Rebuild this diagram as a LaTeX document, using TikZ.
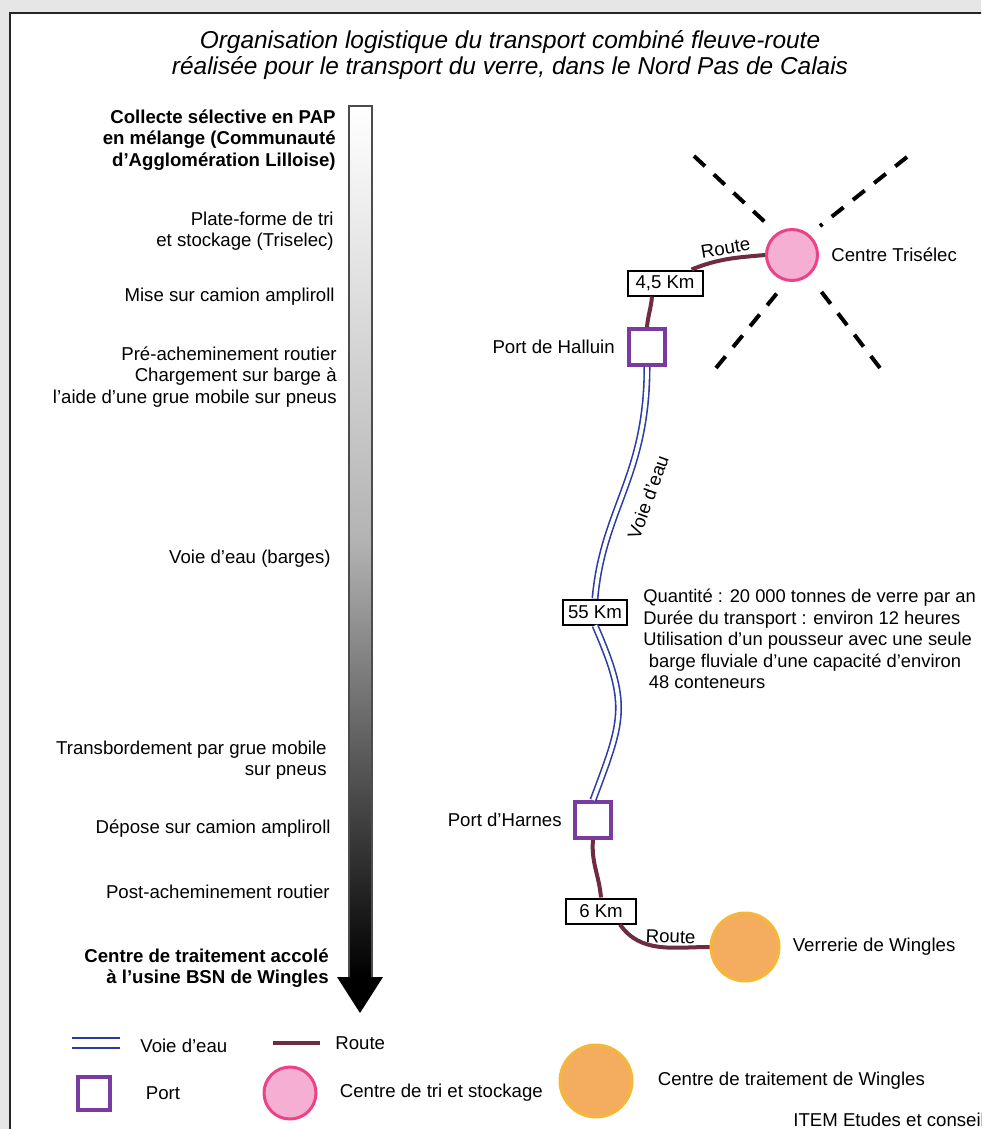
\documentclass[tikz,border=0pt]{standalone}
\usepackage{fontspec}
\setmainfont{Liberation Sans}
\usetikzlibrary{positioning,calc}

\definecolor{fond}{HTML}{E6E6E6}
\definecolor{routebrun}{HTML}{6E2B42}
\definecolor{voiebleu}{HTML}{2B3BA6}
\definecolor{portviolet}{HTML}{7A3BA0}
\definecolor{trirose}{HTML}{F4AFD3}
\definecolor{tribord}{HTML}{EC4286}
\definecolor{verreorange}{HTML}{F4AC5F}
\definecolor{verrebord}{HTML}{F6B63A}

\begin{document}
\begin{tikzpicture}[x=0.02cm,y=0.02cm,font=\fontsize{10.6}{12.2}\selectfont]

		\tikzstyle{etape}=[anchor=east,align=right,inner sep=0pt]
		\tikzstyle{legende}=[anchor=west,inner sep=0pt]
		\tikzstyle{port}=[rectangle,draw=portviolet,line width=0.08cm,fill=white,
			minimum size=0.72cm,inner sep=0pt]
		\tikzstyle{tricentre}=[circle,draw=tribord,line width=0.06cm,fill=trirose,inner sep=0pt]
		\tikzstyle{verrerie}=[circle,draw=verrebord,line width=0.06cm,fill=verreorange,inner sep=0pt]
		\tikzstyle{kmbox}=[rectangle,draw=black,line width=0.04cm,fill=white,
			minimum height=0.5cm,inner sep=2pt]
		\tikzstyle{route}=[draw=routebrun,line width=0.08cm]
		\tikzstyle{voie}=[draw=voiebleu,line width=0.9pt,double=white,double distance=2.2pt]
		\tikzstyle{zone}=[black,line width=0.08cm,dash pattern=on 0.3cm off 0.24cm]

		\useasboundingbox (0,0) rectangle (981,-1129);
		\clip (0,0) rectangle (981,-1129);
		\fill[fond] (0,0) rectangle (981,-1129);
		\draw[black!85,line width=0.04cm,fill=white] (10,-13) rectangle (1010,-1160);

		\node[font=\fontsize{13.9}{14.7}\selectfont\itshape,align=center] (titre) at (510,-55)
			{Organisation logistique du transport combiné fleuve-route\\réalisée pour le transport du verre, dans le Nord Pas de Calais};

		% fleche des etapes
		\shade[top color=white,bottom color=black,middle color=black!30] (349,-106) rectangle (372,-977);
		\draw[black!70,line width=0.04cm] (349,-977) -- (349,-106) -- (372,-106) -- (372,-977);
		\fill[black] (337,-977) -- (383,-977) -- (360,-1013) -- cycle;

		\node[etape,font=\fontsize{10.6}{12.2}\selectfont\bfseries] (collecte) at (336,-140)
			{Collecte sélective en PAP\\en mélange (Communauté\\d'Agglomération Lilloise)};
		\node[etape] (plateforme) at (334,-231) {Plate-forme de tri\\et stockage (Triselec)};
		\node[etape] (camion) at (335,-297) {Mise sur camion ampliroll};
		\node[etape] (preach) at (337,-377) {Pré-acheminement routier\\Chargement sur barge à\\l'aide d'une grue mobile sur pneus};
		\node[etape] (barges) at (331,-559) {Voie d'eau (barges)};
		\node[etape] (transbo) at (327,-760) {Transbordement par grue mobile\\sur pneus};
		\node[etape] (depose) at (331,-829) {Dépose sur camion ampliroll};
		\node[etape] (postach) at (330,-892) {Post-acheminement routier};
		\node[etape,font=\fontsize{10.6}{12.2}\selectfont\bfseries] (centre) at (329,-968)
			{Centre de traitement accolé\\à l'usine BSN de Wingles};

		% carte
		\node[tricentre,minimum size=1.02cm] (triselec) at (792,-255) {};
		\node[legende,right=0.24cm of triselec] (triseleclabel) {Centre Trisélec};
		\draw[zone] ($(triselec.center)+(-98,99)$) -- ($(triselec.center)+(-26,32)$);
		\draw[zone] ($(triselec.center)+(115,98)$) -- ($(triselec.center)+(28,29)$);
		\draw[zone] ($(triselec.center)+(-76,-113)$) -- ($(triselec.center)+(-14,-37)$);
		\draw[zone] ($(triselec.center)+(88,-113)$) -- ($(triselec.center)+(28,-35)$);

		\node[port] (halluin) at (647,-347) {};
		\node[etape,left=0.24cm of halluin] (halluinlabel) {Port de Halluin};
		\node[kmbox,minimum width=1.5cm] (km1) at (665,-283) {4,5 Km};
		\node[kmbox,minimum width=1.28cm] (km55) at (595,-612) {55 Km};
		\node[port] (harnes) at (593,-820) {};
		\node[etape,left=0.22cm of harnes] (harneslabel) {Port d'Harnes};
		\node[kmbox,minimum width=1.4cm] (km6) at (601,-911) {6 Km};
		\node[verrerie,minimum size=1.36cm] (wingles) at (745,-947) {};
		\node[legende,right=0.24cm of wingles] (wingleslabel) {Verrerie de Wingles};

		\draw[route] (halluin.north) to[out=85,in=-95] ([xshift=-0.26cm]km1.south);
		\draw[route] ([xshift=-0.24cm]km1.north east) to[out=22,in=185]
			node[above,sloped,inner sep=1.5pt] {Route} (triselec.west);
		\draw[voie] (halluin.south) .. controls ($(halluin.south)+(0,-110)$) and ($(km55.north)+(8,90)$) .. (km55.north);
		\draw[voie] (km55.south) .. controls ($(km55.south)+(35,-80)$) and ($(harnes.north)+(30,80)$) .. (harnes.north);
		\node[rotate=70] (voielabel) at (648,-497) {Voie d'eau};
		\draw[route] (harnes.south) to[out=-95,in=95] (km6.north);
		\draw[route] ([xshift=0.38cm]km6.south) to[out=-55,in=180]
			node[pos=0.62,above,sloped,inner sep=1.5pt] {Route} (wingles.west);

		\node[legende,align=left,font=\fontsize{10.45}{12.2}\selectfont] (infos) at (643,-639)
			{Quantité : 20 000 tonnes de verre par an\\Durée du transport : environ 12 heures\\Utilisation d'un pousseur avec une seule\\\hspace*{0.3em}barge fluviale d'une capacité d'environ\\\hspace*{0.3em}48 conteneurs};

		% legende
		\draw[voiebleu,line width=0.03cm] (72,-1038) -- (120,-1038);
		\draw[voiebleu,line width=0.03cm] (72,-1048) -- (120,-1048);
		\node[legende] (legvoie) at (140,-1046) {Voie d'eau};
		\draw[route] (273,-1043) -- (320,-1043);
		\node[legende] (legroute) at (335,-1043) {Route};
		\node[port,minimum size=0.66cm] (legport) at (94,-1093) {};
		\node[legende,right=0.66cm of legport] (legportlabel) {Port};
		\node[tricentre,minimum size=1.04cm] (legtri) at (290,-1093) {};
		\node[legende,right=0.44cm of legtri] (legtrilabel) {Centre de tri et stockage};
		\node[verrerie,minimum size=1.44cm] (legverre) at (596,-1081) {};
		\node[legende,right=0.48cm of legverre] (legverrelabel) {Centre de traitement de Wingles};
		\node[legende] (source) at (793,-1120) {ITEM Etudes et conseil};

	\end{tikzpicture}
\end{document}
